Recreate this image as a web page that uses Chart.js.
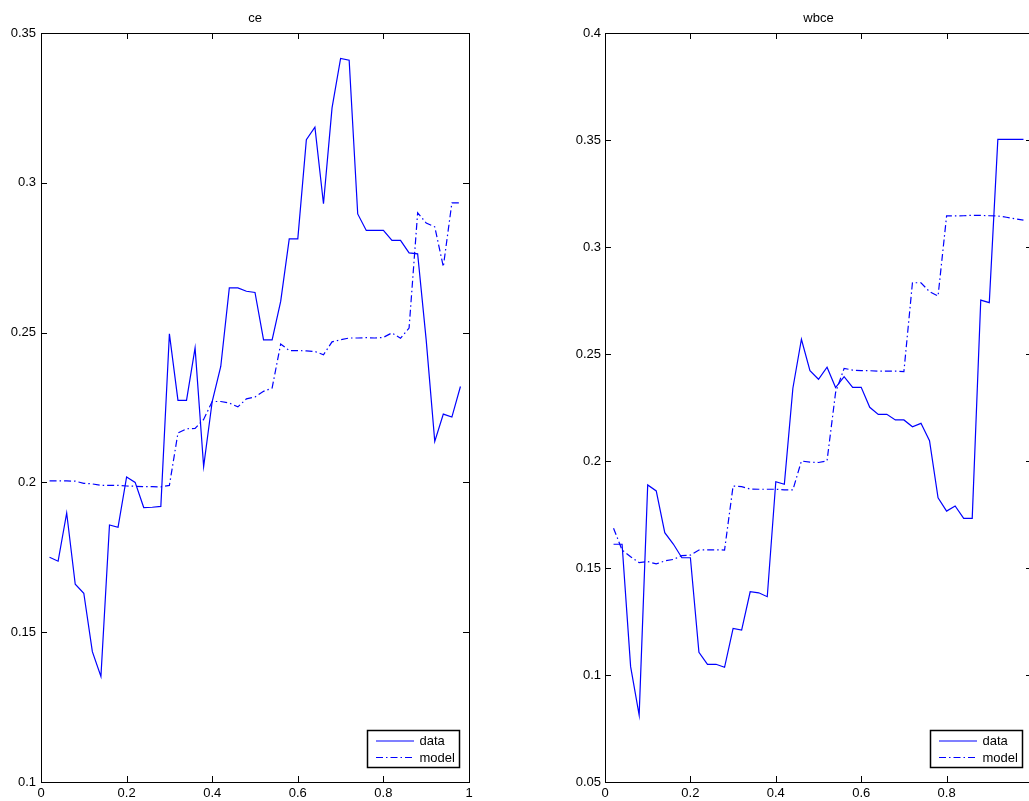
<!DOCTYPE html>
<html>
<head>
<meta charset="utf-8">
<script src="https://cdn.jsdelivr.net/npm/chart.js@4.4.0/dist/chart.umd.min.js"></script>
<style>
  html, body { margin: 0; padding: 0; background: #fff; overflow: hidden; width: 1029px; height: 801px; }
  canvas { position: absolute; top: 0; }
  #ceChart { left: 0; }
  #wbceChart { left: 540px; }
</style>
</head>
<body>
<canvas id="ceChart" width="500" height="801"></canvas>
<canvas id="wbceChart" width="500" height="801"></canvas>
<script>
// x positions shared by every series
const xValues = [0.02, 0.04, 0.06, 0.08, 0.10, 0.12, 0.14, 0.16, 0.18, 0.20,
                 0.22, 0.24, 0.26, 0.28, 0.30, 0.32, 0.34, 0.36, 0.38, 0.40,
                 0.42, 0.44, 0.46, 0.48, 0.50, 0.52, 0.54, 0.56, 0.58, 0.60,
                 0.62, 0.64, 0.66, 0.68, 0.70, 0.72, 0.74, 0.76, 0.78, 0.80,
                 0.82, 0.84, 0.86, 0.88, 0.90, 0.92, 0.94, 0.96, 0.98];

// panel "ce"
const ceData = [0.175, 0.1737, 0.1898, 0.166, 0.163, 0.1435, 0.1352, 0.1858, 0.185, 0.2018,
                0.2000, 0.1916, 0.1917, 0.192, 0.2496, 0.2274, 0.2274, 0.2449, 0.2053, 0.227,
                0.2387, 0.2649, 0.2649, 0.2638, 0.2634, 0.2476, 0.2476, 0.2604, 0.2813, 0.2813,
                0.3144, 0.3186, 0.293, 0.325, 0.3415, 0.3409, 0.2896, 0.2841, 0.2841, 0.2841,
                0.2808, 0.2808, 0.2766, 0.2763, 0.2475, 0.2137, 0.2228, 0.2218, 0.232];
const ceModel = [0.2005, 0.2005, 0.2005, 0.2004, 0.1997, 0.1995, 0.199, 0.199, 0.199, 0.1988,
                 0.1987, 0.1986, 0.1986, 0.1985, 0.199, 0.2165, 0.2179, 0.218, 0.221, 0.227,
                 0.227, 0.2265, 0.2252, 0.2279, 0.2285, 0.2304, 0.2315, 0.2462, 0.244, 0.244,
                 0.2439, 0.2437, 0.2426, 0.2469, 0.2476, 0.2482, 0.2482, 0.2483, 0.2482, 0.2484,
                 0.2499, 0.2481, 0.2515, 0.29, 0.2866, 0.2853, 0.272, 0.2933, 0.2933];

// panel "wbce"
const wbceData = [0.1611, 0.1611, 0.1039, 0.0813, 0.1888, 0.186, 0.1665, 0.1612, 0.1548, 0.1548,
                  0.1106, 0.105, 0.105, 0.1036, 0.1218, 0.121, 0.1389, 0.1384, 0.1366, 0.1903,
                  0.1891, 0.234, 0.2569, 0.2422, 0.2382, 0.2438, 0.2343, 0.2394, 0.2344, 0.2344,
                  0.2251, 0.2218, 0.2218, 0.2192, 0.2192, 0.216, 0.2176, 0.2095, 0.1828, 0.1766,
                  0.179, 0.1732, 0.1732, 0.2752, 0.274, 0.3503, 0.3503, 0.3503, 0.3503];
const wbceModel = [0.1686, 0.1584, 0.1553, 0.1525, 0.153, 0.1519, 0.1533, 0.154, 0.1558, 0.156,
                   0.1584, 0.1585, 0.1585, 0.1584, 0.1883, 0.188, 0.1869, 0.1868, 0.1868, 0.1868,
                   0.1865, 0.1865, 0.2, 0.1995, 0.1993, 0.2001, 0.232, 0.2433, 0.2425, 0.2422,
                   0.2422, 0.242, 0.242, 0.242, 0.2418, 0.2833, 0.2833, 0.2791, 0.2771, 0.3145,
                   0.3145, 0.3146, 0.3148, 0.3148, 0.3146, 0.3145, 0.3139, 0.3132, 0.3126];

const seriesLabels = ['data', 'model'];
const xTicks = [0, 0.2, 0.4, 0.6, 0.8, 1];

const FONT = '"Liberation Sans", Arial, Helvetica, sans-serif';
const BLUE = '#0000ff';
const DASHDOT = [7, 3, 1.5, 3];

function points(ys) {
    return xValues.map((x, i) => ({ x: x, y: ys[i] }));
}

// box around the axes, inward ticks on all four sides, legend in lower right
const matlabFrame = {
    id: 'matlabFrame',
    afterDraw(chart) {
        const ctx = chart.ctx;
        const a = chart.chartArea;
        const xs = chart.scales.x, ys = chart.scales.y;
        const len = 6;
        ctx.save();
        ctx.strokeStyle = '#000';
        ctx.lineWidth = 1;
        ctx.setLineDash([]);
        ctx.beginPath();
        xs.ticks.forEach(t => {
            const px = Math.round(xs.getPixelForValue(t.value)) + 0.5;
            ctx.moveTo(px, a.bottom); ctx.lineTo(px, a.bottom - len);
            ctx.moveTo(px, a.top); ctx.lineTo(px, a.top + len);
        });
        ys.ticks.forEach(t => {
            const py = Math.round(ys.getPixelForValue(t.value)) + 0.5;
            ctx.moveTo(a.left, py); ctx.lineTo(a.left + len, py);
            ctx.moveTo(a.right, py); ctx.lineTo(a.right - len, py);
        });
        ctx.stroke();
        ctx.strokeRect(Math.round(a.left) + 0.5, Math.round(a.top) + 0.5,
                       Math.round(a.right - a.left), Math.round(a.bottom - a.top));

        // legend
        const bx = Math.round(a.right - 102) + 0.5;
        const by = Math.round(a.bottom - 52) + 0.5;
        const bw = 92, bh = 37;
        ctx.fillStyle = '#fff';
        ctx.fillRect(bx, by, bw, bh);
        ctx.lineWidth = 1.5;
        ctx.strokeRect(bx, by, bw, bh);
        ctx.font = '13px ' + FONT;
        ctx.textBaseline = 'middle';
        ctx.textAlign = 'left';
        chart.data.datasets.forEach((ds, i) => {
            const ly = by + 10.5 + i * 16.5;
            ctx.strokeStyle = ds.borderColor;
            ctx.lineWidth = 1.2;
            ctx.setLineDash(ds.borderDash || []);
            ctx.beginPath();
            ctx.moveTo(bx + 8.5, ly);
            ctx.lineTo(bx + 46.5, ly);
            ctx.stroke();
            ctx.fillStyle = '#000';
            ctx.fillText(ds.label, bx + 52, ly + 0.5);
        });
        ctx.restore();
    }
};

function makeChart(id, title, dataVals, modelVals, yMin, yMax, yAxisWidth, padRight, labelPad) {
    return new Chart(document.getElementById(id), {
        type: 'line',
        data: {
            datasets: [
                { label: seriesLabels[0], data: points(dataVals), borderColor: BLUE, borderWidth: 1.2,
                  pointRadius: 0, tension: 0, fill: false },
                { label: seriesLabels[1], data: points(modelVals), borderColor: BLUE, borderWidth: 1.2,
                  borderDash: DASHDOT, pointRadius: 0, tension: 0, fill: false }
            ]
        },
        options: {
            responsive: false,
            animation: false,
            events: [],
            layout: { padding: { left: 0, right: padRight, top: 0, bottom: 0 } },
            plugins: {
                legend: { display: false },
                tooltip: { enabled: false },
                title: {
                    display: true, text: title, fullSize: false, color: '#000',
                    font: { family: FONT, size: 13, weight: 'normal', lineHeight: 1.2 },
                    padding: { top: 11, bottom: 6.4 }
                }
            },
            scales: {
                x: {
                    type: 'linear', min: 0, max: 1,
                    afterBuildTicks: s => { s.ticks = xTicks.map(v => ({ value: v })); },
                    afterFit: s => { s.height = 19; },
                    grid: { display: false, drawTicks: false },
                    border: { display: false },
                    ticks: { color: '#000', padding: 4, maxRotation: 0, font: { family: FONT, size: 13 },
                             callback: v => String(Math.round(v * 100) / 100) }
                },
                y: {
                    type: 'linear', min: yMin, max: yMax,
                    ticks: { stepSize: 0.05, color: '#000', padding: labelPad, font: { family: FONT, size: 13 },
                             callback: v => String(Math.round(v * 100) / 100) },
                    afterFit: s => { s.width = yAxisWidth; },
                    grid: { display: false, drawTicks: false },
                    border: { display: false }
                }
            }
        },
        plugins: [matlabFrame]
    });
}

makeChart('ceChart', 'ce', ceData, ceModel, 0.1, 0.35, 41, 31, 5);
makeChart('wbceChart', 'wbce', wbceData, wbceModel, 0.05, 0.4, 65, 8, 4);
</script>
</body>
</html>
